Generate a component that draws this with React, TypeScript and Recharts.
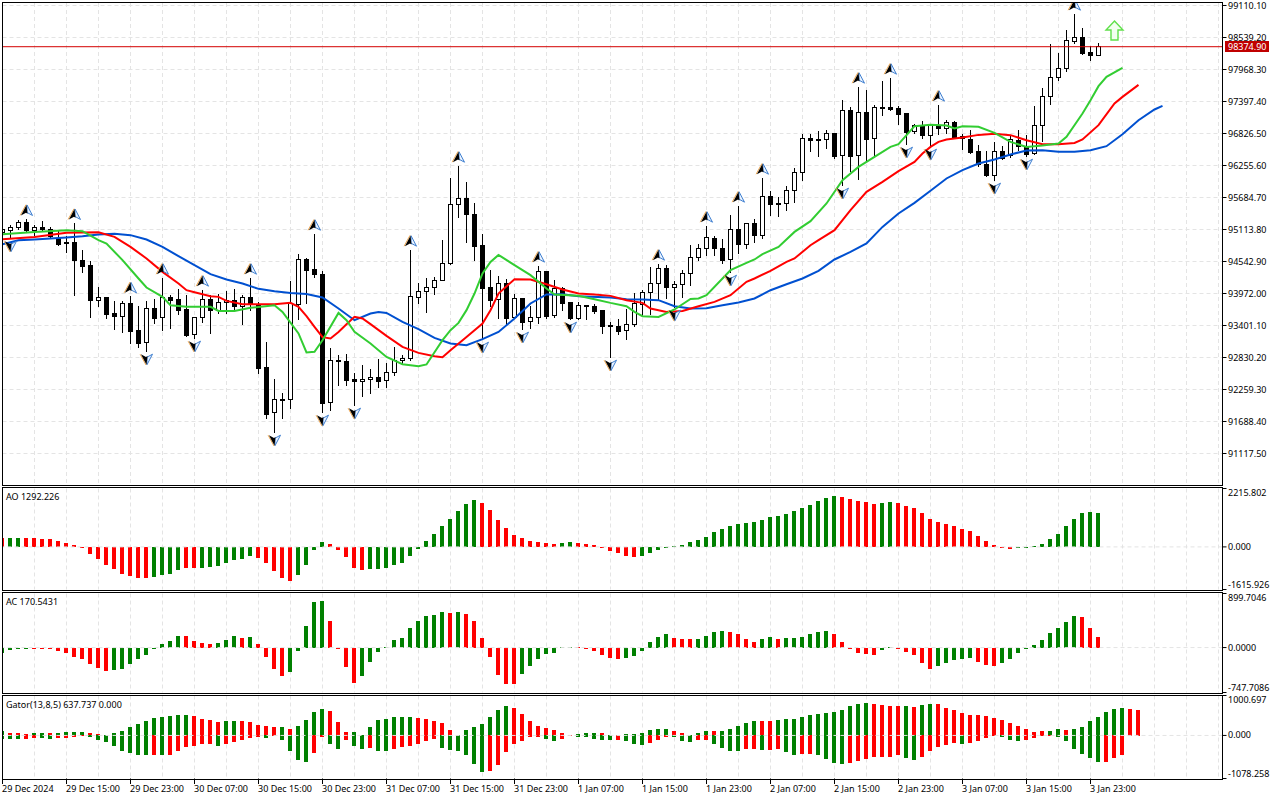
import React from "react";
import {
  Bar,
  CartesianGrid,
  ComposedChart,
  Line,
  ReferenceDot,
  ReferenceLine,
  XAxis,
  YAxis,
} from "recharts";

// hourly candles, index 0 = 29 Dec 2024
const opens = [
  95066, 95089, 95143, 95239, 95089, 95150, 95114, 94947, 94888, 94888,
  94567, 94477, 93840, 93907, 93621, 93555, 93799, 93318, 93098, 93710,
  93537, 93907, 93871, 93692, 93234, 93544, 93871, 93675, 93805, 93848,
  93746, 93907, 93764, 92658, 91850, 92087, 92081, 93782, 94584, 94406,
  94317, 92028, 92783, 92765, 92444, 92403, 92431, 92479, 92413, 92556,
  92777, 92806, 93894, 94001, 94072, 94204, 94500, 95560, 95667, 95382,
  94834, 94085, 93858, 94156, 93537, 93889, 93466, 93537, 94370, 93573,
  94062, 93817, 93532, 93764, 93746, 93675, 93407, 93389, 93309, 93412,
  93782, 93990, 94151, 94424, 94079, 94126, 94329, 94615, 94775, 94959,
  94781, 94579, 95120, 94840, 95227, 95000, 95708, 95583, 95571, 95810,
  96131, 96743, 96720, 96720, 96832, 96427, 97243, 96427, 97207, 96731,
  97296, 97296, 97278, 97189, 96855, 96975, 96797, 96957, 96916, 97029,
  96766, 96725, 96511, 96279, 96083, 96511, 96440, 96707, 96600, 96470,
  96970, 97487, 97826, 97987, 98461, 98545, 98277, 98218,
];
const closes = [
  95120, 95150, 95239, 95089, 95150, 95120, 94995, 94852, 94864, 94554,
  94460, 93840, 93901, 93603, 93555, 93794, 93300, 93086, 93705, 93532,
  93901, 93853, 93675, 93223, 93544, 93865, 93675, 93812, 93853, 93746,
  93901, 93799, 92640, 91819, 92081, 92069, 93794, 94579, 94388, 94317,
  92015, 92783, 92752, 92426, 92403, 92444, 92474, 92408, 92568, 92783,
  92818, 93924, 94008, 94079, 94204, 94508, 95566, 95667, 95382, 94816,
  94067, 93853, 94151, 93532, 93883, 93461, 93544, 94365, 93567, 94062,
  93799, 93532, 93758, 93741, 93657, 93389, 93377, 93300, 93425, 93794,
  93996, 94151, 94418, 94079, 94133, 94329, 94615, 94775, 94972, 94768,
  94567, 95114, 94840, 95221, 95013, 95708, 95566, 95571, 95810, 96131,
  96738, 96695, 96702, 96827, 96422, 97237, 96422, 97207, 96725, 97296,
  97284, 97260, 97171, 96850, 96970, 96797, 96975, 96921, 97023, 96761,
  96731, 96493, 96279, 96083, 96511, 96386, 96720, 96600, 96458, 96970,
  97487, 97826, 97987, 98486, 98540, 98259, 98211, 98375,
];
const highs = [
  95173, 95191, 95268, 95293, 95191, 95262, 95150, 95071, 94982, 95221,
  94745, 94549, 94085, 93907, 93835, 93835, 93912, 93734, 93835, 93871,
  94245, 93942, 94049, 93942, 93544, 94031, 93942, 93960, 94014, 94049,
  93942, 94245, 93817, 93104, 92444, 92194, 94192, 94674, 94602, 95030,
  94370, 92997, 92872, 92890, 92551, 92693, 92622, 92800, 92729, 93014,
  92872, 94745, 94156, 94245, 94263, 94923, 96029, 96243, 95958, 95583,
  95030, 94388, 94281, 94228, 93960, 93889, 93746, 94460, 94370, 94210,
  94085, 93817, 93817, 93764, 93782, 93675, 93461, 93514, 93692, 93978,
  94031, 94442, 94495, 94477, 94192, 94388, 94834, 94852, 95173, 94995,
  94941, 95369, 95530, 95227, 95298, 96029, 95798, 95691, 95887, 96208,
  96814, 96814, 96868, 96886, 96832, 97421, 97296, 97653, 97599, 97332,
  97760, 97813, 97314, 97189, 96993, 97046, 96993, 97332, 97064, 97046,
  96814, 96886, 96618, 96511, 96672, 96600, 96797, 96886, 96797, 97314,
  97635, 98420, 98259, 98670, 98955, 98705, 98384, 98438,
];
const lows = [
  94995, 94959, 95120, 95079, 95013, 95071, 94959, 94834, 94709, 93942,
  94340, 93537, 93734, 93532, 93336, 93282, 93086, 93002, 92943, 93443,
  93318, 93353, 93603, 93211, 93175, 93461, 93264, 93621, 93621, 93675,
  93425, 93662, 92551, 91748, 91498, 91748, 91926, 93514, 93799, 94263,
  91855, 91891, 92337, 92337, 91980, 92140, 92194, 92301, 92301, 92515,
  92729, 92783, 93799, 93639, 93960, 94204, 94495, 95334, 94888, 94567,
  93157, 93746, 93532, 93425, 93532, 93336, 93353, 93443, 93532, 93550,
  93675, 93514, 93514, 93514, 93621, 93264, 92836, 93246, 93157, 93377,
  93568, 93603, 93853, 93889, 93728, 93907, 94121, 94554, 94656, 94656,
  94513, 94352, 94691, 94781, 94888, 94959, 95369, 95352, 95459, 95601,
  95994, 96511, 96422, 96565, 96386, 95905, 96154, 96012, 96351, 96422,
  97153, 97243, 96993, 96636, 96832, 96743, 96600, 96814, 96832, 96743,
  96547, 96475, 96244, 96065, 95994, 96368, 96404, 96529, 96422, 96458,
  96690, 97350, 97778, 97938, 98438, 98242, 98135, 98218,
];

// alligator lines: [bar index, price]
const jaw: [number, number][] = [
  [0, 94852], [2, 94923], [4, 94936], [6, 94954], [8, 94972], [10, 94995], [12, 95025], [14, 95036],
  [16, 95013], [18, 94936], [20, 94804], [22, 94638], [24, 94477], [26, 94317], [28, 94222], [30, 94151],
  [32, 94055], [34, 94014], [36, 93983], [38, 93965], [40, 93901], [42, 93705], [44, 93496], [46, 93616],
  [47, 93644], [48, 93626], [50, 93466], [52, 93336], [54, 93180], [56, 93081], [58, 93050], [60, 93157],
  [62, 93287], [64, 93526], [66, 93794], [68, 93955], [70, 93960], [72, 93924], [76, 93901], [78, 93871],
  [80, 93865], [82, 93853], [84, 93746], [86, 93705], [88, 93710], [90, 93764], [92, 93812], [94, 93883],
  [96, 94031], [98, 94138], [100, 94240], [102, 94376], [104, 94579], [106, 94715], [108, 94865], [110, 95161],
  [112, 95400], [114, 95589], [116, 95806], [118, 96024], [120, 96172], [122, 96292], [124, 96363], [126, 96452],
  [128, 96524], [130, 96529], [132, 96499], [134, 96499], [136, 96529], [138, 96600], [140, 96814], [142, 97064],
  [144, 97255], [145, 97319],
];
const teeth: [number, number][] = [
  [0, 94941], [4, 94982], [8, 95054], [12, 95066], [14, 94982], [16, 94804], [18, 94597], [20, 94358],
  [22, 94151], [23, 94031], [24, 93996], [26, 93924], [27, 93912], [28, 93840], [30, 93782], [32, 93782],
  [34, 93782], [36, 93805], [37, 93734], [38, 93567], [39, 93377], [40, 93193], [41, 93170], [42, 93287],
  [43, 93425], [44, 93555], [45, 93527], [46, 93425], [48, 93216], [50, 93020], [52, 92913], [54, 92854],
  [55, 92836], [56, 92961], [58, 93198], [60, 93437], [61, 93675], [62, 93972], [64, 94228], [66, 94222],
  [68, 94138], [70, 94044], [72, 93972], [74, 93955], [76, 93930], [78, 93853], [80, 93805], [81, 93705],
  [83, 93644], [85, 93662], [87, 93746], [89, 93823], [91, 93942], [93, 94180], [94, 94240], [96, 94376],
  [98, 94536], [99, 94597], [101, 94834], [102, 94923], [104, 95102], [106, 95458], [108, 95785], [110, 95963],
  [112, 96154], [114, 96320], [115, 96470], [116, 96588], [117, 96677], [118, 96720], [120, 96756], [122, 96802],
  [124, 96820], [126, 96797], [128, 96707], [130, 96636], [132, 96636], [134, 96659], [135, 96720], [137, 96975],
  [139, 97362], [140, 97480], [142, 97694],
];
const lips: [number, number][] = [
  [0, 95030], [4, 95071], [8, 95102], [10, 95084], [12, 94923], [13, 94864], [15, 94567], [17, 94240],
  [18, 94079], [20, 93912], [21, 93764], [23, 93734], [26, 93734], [27, 93662], [29, 93662], [31, 93716],
  [34, 93764], [35, 93644], [37, 93259], [38, 92920], [39, 92931], [40, 93139], [42, 93626], [43, 93496],
  [44, 93287], [46, 93081], [48, 92841], [50, 92711], [52, 92676], [53, 92706], [55, 93139], [56, 93318],
  [57, 93448], [58, 93675], [59, 93972], [60, 94329], [61, 94536], [62, 94661], [64, 94477], [66, 94299],
  [68, 94062], [69, 93955], [72, 93930], [74, 93871], [76, 93805], [78, 93746], [79, 93644], [80, 93568],
  [82, 93555], [84, 93687], [86, 93876], [87, 93883], [88, 93942], [90, 94240], [91, 94388], [93, 94518],
  [94, 94579], [95, 94674], [97, 94804], [99, 95071], [101, 95262], [103, 95578], [105, 95994], [107, 96231],
  [109, 96409], [111, 96588], [112, 96636], [114, 96957], [116, 96984], [118, 96970], [119, 96916], [120, 96957],
  [122, 96945], [124, 96838], [126, 96677], [128, 96588], [130, 96613], [132, 96649], [133, 96766], [135, 97184],
  [136, 97421], [137, 97671], [138, 97837], [140, 97997],
];

const fractalUpBars = [3, 9, 16, 20, 25, 31, 39, 51, 57, 67, 82, 88, 92, 95, 107, 111, 117, 134];
const fractalDownBars = [1, 18, 24, 34, 40, 44, 60, 65, 71, 76, 84, 91, 105, 113, 116, 124, 128];

const aoValues = [
  341, 341, 341, 341, 341, 303, 303, 227, 152, 76,
  -38, -265, -455, -682, -834, -1023, -1099, -1175, -1175, -1137,
  -1061, -1023, -871, -796, -796, -796, -758, -720, -606, -493,
  -455, -341, -417, -606, -909, -1175, -1288, -1061, -682, -114,
  189, 114, -114, -379, -796, -871, -834, -834, -796, -682,
  -606, -341, -76, 227, 493, 796, 1061, 1364, 1629, 1781,
  1667, 1402, 1023, 720, 455, 341, 227, 189, 152, 114,
  152, 189, 152, 114, 76, -38, -152, -227, -341, -379,
  -341, -227, -114, -38, 38, 76, 189, 265, 379, 568,
  682, 796, 871, 909, 947, 1023, 1137, 1175, 1250, 1364,
  1478, 1591, 1743, 1857, 1932, 1895, 1819, 1743, 1705, 1629,
  1667, 1705, 1667, 1553, 1478, 1288, 1061, 947, 871, 796,
  682, 606, 417, 227, 76, -13, -63, -25, -25, 25,
  114, 303, 493, 796, 1061, 1288, 1326, 1292,
];
const aoGreenRuns = [[1, 2], [19, 22], [25, 31], [37, 40], [46, 59], [70, 71], [80, 104], [110, 111], [127, 137]];

const acValues = [
  -84, -45, -11, -8, -6, -22, -22, -56, -95, -162,
  -195, -279, -345, -395, -379, -362, -279, -195, -128, -6,
  56, 106, 189, 189, 106, 72, 56, 72, 123, 189,
  156, 173, 56, -162, -362, -479, -412, -61, 356, 757,
  774, 440, -11, -329, -596, -479, -245, -78, 17, 123,
  156, 323, 440, 524, 540, 590, 574, 590, 557, 440,
  156, -162, -462, -613, -613, -446, -312, -195, -111, -95,
  6, 17, 6, -22, -61, -128, -178, -195, -178, -145,
  -61, 89, 173, 223, 156, 139, 139, 139, 189, 256,
  273, 256, 223, 139, 89, 139, 173, 139, 156, 156,
  173, 223, 256, 273, 223, 89, -22, -95, -111, -128,
  -45, 11, -6, -78, -128, -262, -362, -312, -262, -212,
  -195, -178, -245, -295, -312, -262, -195, -95, -6, 50,
  123, 240, 323, 423, 524, 507, 323, 171,
];
const acGreenRuns = [[0, 3], [14, 22], [27, 29], [31, 31], [36, 40], [45, 55], [57, 57], [65, 71], [78, 83], [87, 90], [95, 96], [98, 103], [110, 111], [117, 121], [125, 134]];

const gatorUpper = [
  100, 50, 50, 25, 50, 50, 50, 50, 75, 75,
  75, 50, 25, 0, 50, 100, 200, 275, 350, 425,
  450, 475, 500, 500, 475, 400, 375, 325, 350, 350,
  350, 325, 250, 225, 200, 200, 150, 225, 375, 575,
  675, 600, 325, 75, 75, 0, 200, 375, 400, 450,
  450, 450, 425, 400, 350, 300, 125, 0, 125, 200,
  275, 450, 650, 750, 700, 525, 350, 225, 175, 125,
  50, 8, 25, 50, 50, 50, 0, 0, 25, 25,
  50, 125, 150, 150, 100, 50, 0, 50, 100, 100,
  100, 150, 225, 300, 350, 350, 350, 375, 400, 400,
  450, 500, 525, 550, 575, 650, 750, 800, 825, 800,
  775, 750, 750, 750, 725, 775, 800, 800, 700, 625,
  550, 500, 500, 475, 425, 375, 300, 225, 150, 75,
  100, 100, 150, 125, 150, 200, 350, 450, 575, 675,
  700, 675, 638,
];
const gatorLower = [
  -100, -100, -100, -100, -75, -75, -100, -75, -75, -33,
  -25, -50, -125, -175, -275, -400, -450, -500, -500, -500,
  -500, -500, -400, -300, -275, -225, -225, -275, -225, -175,
  -125, -75, -50, -75, -17, -125, -400, -625, -675, -450,
  -50, -225, -350, -125, -275, -350, -325, -400, -400, -350,
  -300, -275, -225, -150, -100, -325, -375, -400, -500, -725,
  -925, -900, -750, -425, -225, -150, -50, -50, -100, -150,
  -100, -17, -50, -50, -100, -125, -125, -125, -150, -225,
  -250, -200, -125, -50, -50, -150, -175, -125, -125, -225,
  -325, -400, -400, -350, -350, -375, -375, -350, -425, -500,
  -475, -475, -500, -600, -700, -725, -700, -650, -600, -550,
  -550, -550, -500, -575, -625, -550, -400, -300, -250, -200,
  -225, -200, -150, -75, -17, -50, -125, -150, -125, -75,
  -17, -25, -50, -150, -350, -475, -575, -675, -675, -575,
  -500, -17, -8,
];
// g = growing bar, r = shrinking bar
const gatorUpperTrend =
  "grrrggrggg" + "grrrgggggg" + "ggggrrrrgg" + "rrrrrgrggg" + "grrrgggggg" + "ggrrrrrggg" + "ggggrrrrrr" +
  "rrgggrgggg" + "ggggrrgggr" + "gggggrrggg" + "gggggggggr" + "rrrgrggrrr" + "rrrrrrrrrr" + "rggrgggggg" + "grr";
const gatorLowerTrend =
  "gggrrggrrr" + "rggggggggr" + "grrrrrrgrr" + "rrrgrggggr" + "rggrggrggr" + "rrrrrggggg" + "grrrrrrrgg" +
  "rrgggggrgg" + "grrrgggrrg" + "gggrrgrrgg" + "rrggggrrrr" + "rrrggrrrrr" + "grrrrgggrr" + "rrggggggrr" + "rrr";

const priceTicks = [
  99110.1, 98539.2, 97968.3, 97397.4, 96826.5, 96255.6, 95684.7, 95113.8,
  94542.9, 93972, 93401.1, 92830.2, 92259.3, 91688.4, 91117.5,
];
const aoTicks = [2215.802, 0, -1615.926];
const acTicks = [899.7046, 0, -747.7086];
const gatorTicks = [1000.697, 0, -1078.258];
const timeLabels = [
  "29 Dec 2024", "29 Dec 15:00", "29 Dec 23:00", "30 Dec 07:00", "30 Dec 15:00", "30 Dec 23:00",
  "31 Dec 07:00", "31 Dec 15:00", "31 Dec 23:00", "1 Jan 07:00", "1 Jan 15:00", "1 Jan 23:00",
  "2 Jan 07:00", "2 Jan 15:00", "2 Jan 23:00", "3 Jan 07:00", "3 Jan 15:00", "3 Jan 23:00",
];
const lastPrice = 98374.9;
const buySignal = { bar: 139, price: 98664 };

const GREEN = "#008000";
const RED = "#ff0000";
const GRID = "#e4e4e4";
const FONT = "'Noto Sans', sans-serif";
const FONT_SIZE = 9;
const RIGHT = 1222.5;
const WIDTH = 1280;
const HEIGHT = 800;
const xDomain: [number, number] = [0, 152.5];
const gridBars = Array.from({ length: 39 }, (_, k) => k * 4);
const timeBars = timeLabels.map((_, k) => k * 8);

const inRuns = (runs: number[][], i: number) => runs.some(([a, b]) => i >= a && i <= b);
const lookup = (pts: [number, number][], i: number) => {
  const hit = pts.find((p) => p[0] === i);
  return hit ? hit[1] : null;
};

const mainRows = Array.from({ length: 146 }, (_, i) => ({
  idx: i,
  open: opens[i],
  close: closes[i],
  high: highs[i],
  low: lows[i],
  range: i < highs.length ? [lows[i], highs[i]] : undefined,
  jaw: lookup(jaw, i),
  teeth: lookup(teeth, i),
  lips: lookup(lips, i),
  fractalUp: fractalUpBars.includes(i) ? highs[i] : null,
  fractalDown: fractalDownBars.includes(i) ? lows[i] : null,
}));
const aoRows = aoValues.map((v, i) => ({ idx: i, v, color: inRuns(aoGreenRuns, i) ? GREEN : RED }));
const acRows = acValues.map((v, i) => ({ idx: i, v, color: inRuns(acGreenRuns, i) ? GREEN : RED }));
const gatorRows = gatorUpper.map((v, i) => ({
  idx: i,
  upper: v,
  lower: gatorLower[i],
  upperColor: gatorUpperTrend[i] === "g" ? GREEN : RED,
  lowerColor: gatorLowerTrend[i] === "g" ? GREEN : RED,
}));

function Candle(props: any) {
  const { x, y, width, height, payload } = props;
  if (!payload || payload.high == null) return null;
  const toY = (v: number) => y + ((payload.high - v) / (payload.high - payload.low)) * height;
  const cx = Math.floor(x + width / 2) + 0.5;
  const top = Math.floor(toY(Math.max(payload.open, payload.close))) + 0.5;
  const bottom = Math.floor(toY(Math.min(payload.open, payload.close))) + 0.5;
  const up = payload.close >= payload.open;
  return (
    <g>
      <line x1={cx} x2={cx} y1={Math.floor(y)} y2={Math.ceil(y + height)} stroke="#000" />
      <rect x={cx - 2} y={top} width={4} height={Math.max(bottom - top, 1)} fill={up ? "#fff" : "#000"} stroke="#000" />
    </g>
  );
}

function histBar(colorKey: string) {
  return function HistBar(props: any) {
    const { x, y, width, height, payload } = props;
    if (!payload || !height) return null;
    const y0 = Math.min(y, y + height);
    const y1 = Math.max(y, y + height);
    const top = Math.round(y0);
    return (
      <rect x={Math.round(x - 0.5)} y={top} width={4} height={Math.max(Math.round(y1) - top, 1)} fill={payload[colorKey]} />
    );
  };
}

function FractalMark({ cx, cy, dir }: any) {
  if (cy == null || cx == null) return <g />;
  const s = dir === "up" ? 1 : -1;
  const cyy = cy - s * (dir === "up" ? 9 : 8);
  return (
    <g transform={`translate(${cx},${cyy}) scale(1,${s})`}>
      <path d="M0.5,-5.5 L6,5 L0.5,2 Z" fill="#eaf3ff" stroke="#3f7fd0" strokeWidth={1} strokeLinejoin="round" />
      <path d="M-0.5,-5.8 L-6.4,5" fill="none" stroke="#f0a850" strokeWidth={1} />
      <path d="M0,-5.5 L-5.6,5 L-0.5,2.2 L1,3.2 Z" fill="#000" />
    </g>
  );
}

function SignalArrow({ cx, cy }: any) {
  return (
    <g transform={`translate(${cx},${cy})`}>
      <path
        d="M0,-9.5 L8.5,-0.5 L3.5,-0.5 L3.5,9.5 L-3.5,9.5 L-3.5,-0.5 L-8.5,-0.5 Z"
        fill="#f2fff0"
        stroke="#5fe04a"
        strokeWidth={1.4}
      />
    </g>
  );
}

function ValueTick({ y, payload, digits, edges }: any) {
  const v = payload.value;
  let dy = 0;
  if (edges && v > 0) dy = 4;
  if (edges && v < 0) dy = -4.5;
  return (
    <g>
      <line x1={RIGHT} x2={RIGHT + 4} y1={y} y2={y} stroke="#000" />
      <text x={1228} y={y + dy + 3} fontFamily={FONT} fontSize={FONT_SIZE} fill="#000">
        {v.toFixed(digits)}
      </text>
    </g>
  );
}

function TimeTick({ x, payload }: any) {
  const k = timeBars.indexOf(payload.value);
  return (
    <g>
      <line x1={x} x2={x} y1={778.5} y2={784} stroke="#000" />
      <text x={x - 0.5} y={792} fontFamily={FONT} fontSize={FONT_SIZE} fill="#000">
        {timeLabels[k]}
      </text>
    </g>
  );
}

function PriceTag({ viewBox }: any) {
  const y = Math.floor(viewBox.y);
  return (
    <g>
      <rect x={1225} y={y - 5} width={44} height={11} fill="#c00000" />
      <text x={1228} y={y + 3.5} fontFamily={FONT} fontSize={FONT_SIZE} fill="#fff">
        {lastPrice.toFixed(2)}
      </text>
    </g>
  );
}

function IndicatorPanel({ rows, ticks, digits, top, bottom }: any) {
  return (
    <ComposedChart
      width={WIDTH}
      height={HEIGHT}
      data={rows}
      margin={{ top, bottom: HEIGHT - bottom, left: 2.5, right: 0 }}
      style={{ position: "absolute", left: 0, top: 0 }}
    >
      <CartesianGrid horizontal={false} stroke={GRID} strokeDasharray="4 3" verticalValues={gridBars} />
      <XAxis hide type="number" dataKey="idx" domain={xDomain} />
      <YAxis
        orientation="right"
        width={57.5}
        domain={[ticks[2], ticks[0]]}
        ticks={ticks}
        interval={0}
        axisLine={false}
        tickLine={false}
        tick={<ValueTick digits={digits} edges />}
      />
      <Bar dataKey="v" barSize={4} isAnimationActive={false} shape={histBar("color")} />
      <ReferenceLine y={0} stroke={GRID} strokeDasharray="4 3" />
    </ComposedChart>
  );
}

const frames = [
  [2, 485],
  [487, 590],
  [592, 693],
  [695, 779],
];
const captions = [
  { text: "AO 1292.226", y: 491 },
  { text: "AC 170.5431", y: 596 },
  { text: "Gator(13,8,5) 637.737 0.000", y: 699 },
];

export default function App() {
  return (
    <div style={{ position: "absolute", left: 0, top: 0, width: WIDTH, height: HEIGHT, background: "#fff", overflow: "hidden" }}>
      <ComposedChart
        width={WIDTH}
        height={HEIGHT}
        data={mainRows}
        margin={{ top: 3, bottom: HEIGHT - 485, left: 2.5, right: 0 }}
        style={{ position: "absolute", left: 0, top: 0 }}
      >
        <CartesianGrid stroke={GRID} strokeDasharray="4 3" verticalValues={gridBars} horizontalValues={priceTicks} />
        <XAxis hide type="number" dataKey="idx" domain={xDomain} />
        <YAxis
          orientation="right"
          width={57.5}
          domain={[90555.8, 99154.7]}
          ticks={priceTicks}
          interval={0}
          axisLine={false}
          tickLine={false}
          tick={<ValueTick digits={2} />}
        />
        <Bar dataKey="range" barSize={5} isAnimationActive={false} shape={Candle} />
        <Line dataKey="jaw" stroke="#0050d0" strokeWidth={2} dot={false} connectNulls isAnimationActive={false} />
        <Line dataKey="teeth" stroke="#ff0000" strokeWidth={2} dot={false} connectNulls isAnimationActive={false} />
        <Line dataKey="lips" stroke="#32cd32" strokeWidth={2} dot={false} connectNulls isAnimationActive={false} />
        <Line
          dataKey="fractalUp"
          stroke="none"
          isAnimationActive={false}
          dot={(p: any) => <FractalMark key={p.index} cx={p.cx} cy={p.cy} dir="up" />}
        />
        <Line
          dataKey="fractalDown"
          stroke="none"
          isAnimationActive={false}
          dot={(p: any) => <FractalMark key={p.index} cx={p.cx} cy={p.cy} dir="down" />}
        />
        <ReferenceDot x={buySignal.bar} y={buySignal.price} shape={SignalArrow} />
        <ReferenceLine y={lastPrice} stroke="#d40000" label={<PriceTag />} />
      </ComposedChart>

      <IndicatorPanel rows={aoRows} ticks={aoTicks} digits={3} top={488.5} bottom={589.5} />
      <IndicatorPanel rows={acRows} ticks={acTicks} digits={4} top={593.5} bottom={692.5} />

      <ComposedChart
        width={WIDTH}
        height={HEIGHT}
        data={gatorRows}
        stackOffset="sign"
        margin={{ top: 695.5, bottom: 0, left: 2.5, right: 0 }}
        style={{ position: "absolute", left: 0, top: 0 }}
      >
        <CartesianGrid horizontal={false} stroke={GRID} strokeDasharray="4 3" verticalValues={gridBars} />
        <XAxis
          type="number"
          dataKey="idx"
          domain={xDomain}
          height={21.5}
          ticks={timeBars}
          interval={0}
          axisLine={false}
          tickLine={false}
          tick={<TimeTick />}
        />
        <YAxis
          orientation="right"
          width={57.5}
          domain={[gatorTicks[2], gatorTicks[0]]}
          ticks={gatorTicks}
          interval={0}
          axisLine={false}
          tickLine={false}
          tick={<ValueTick digits={3} edges />}
        />
        <Bar dataKey="upper" stackId="gator" barSize={4} isAnimationActive={false} shape={histBar("upperColor")} />
        <Bar dataKey="lower" stackId="gator" barSize={4} isAnimationActive={false} shape={histBar("lowerColor")} />
        <ReferenceLine y={0} stroke={GRID} strokeDasharray="4 3" />
      </ComposedChart>

      <div style={{ position: "absolute", left: 0, top: 0, width: 2, height: 780, background: "#fff" }} />
      <div style={{ position: "absolute", left: 0, top: 0, width: 1222, height: 2, background: "#fff" }} />
      {frames.map(([a, b]) => (
        <div
          key={a}
          style={{
            position: "absolute",
            left: 2,
            top: a,
            width: 1221,
            height: b - a + 1,
            boxSizing: "border-box",
            border: "1px solid #000",
          }}
        />
      ))}
      {captions.map((c) => (
        <div
          key={c.text}
          style={{ position: "absolute", left: 6, top: c.y, fontFamily: FONT, fontSize: FONT_SIZE, lineHeight: "11px", color: "#000" }}
        >
          {c.text}
        </div>
      ))}
    </div>
  );
}
